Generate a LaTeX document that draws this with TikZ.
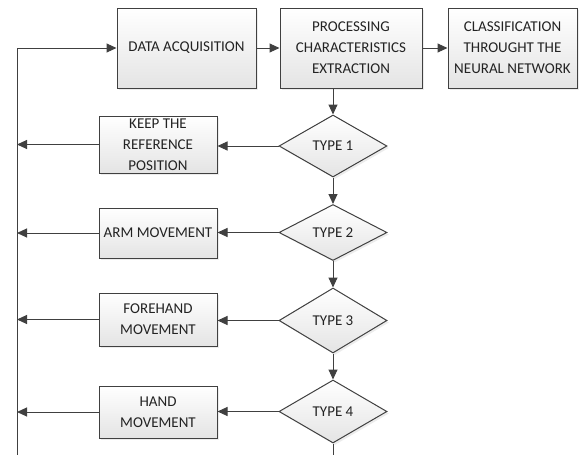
\documentclass[tikz,border=0pt]{standalone}
\usepackage{fontspec}
\setmainfont{Carlito}
\usetikzlibrary{arrows.meta,shapes.geometric,shadows}
\definecolor{LineGray}{RGB}{64,64,64}
\definecolor{TextGray}{RGB}{35,35,35}
\definecolor{BoxBottom}{RGB}{228,228,228}
\tikzset{
  stepbox/.style={rectangle,draw=LineGray,line width=1pt,top color=white,
    bottom color=BoxBottom,drop shadow={opacity=0.15,shadow xshift=2pt,shadow yshift=-2pt},
    align=center,inner sep=1pt,text=TextGray,font=\fontsize{15}{21}\selectfont},
  choice/.style={diamond,draw=LineGray,line width=1pt,top color=white,
    bottom color=BoxBottom,drop shadow={opacity=0.15,shadow xshift=2pt,shadow yshift=-2pt},
    minimum width=108pt,inner sep=0pt,text=TextGray,font=\fontsize{15}{21}\selectfont},
  arrow/.style={-{Triangle[length=10pt,width=9pt]},line width=1pt,LineGray},
  plain/.style={line width=1pt,LineGray}
}
\begin{document}
\begin{tikzpicture}[x=1pt,y=-1pt]
  \useasboundingbox (0,0) rectangle (579,455);
  % top row
  \node[stepbox,minimum width=139pt,minimum height=80pt] (acq) at (186.5,48) {DATA ACQUISITION};
  \node[stepbox,minimum width=142pt,minimum height=80pt] (proc) at (351,48)
    {PROCESSING\\CHARACTERISTICS\\EXTRACTION};
  \node[stepbox,minimum width=129pt,minimum height=80pt] (clas) at (512.5,48)
    {CLASSIFICATION\\THROUGHT THE\\NEURAL NETWORK};
  % decisions
  \node[choice,minimum height=62pt] (t1) at (333,146) {TYPE 1};
  \node[choice,minimum height=56pt] (t2) at (333,232.5) {TYPE 2};
  \node[choice,minimum height=65pt] (t3) at (333,320.5) {TYPE 3};
  \node[choice,minimum height=63pt] (t4) at (333,411.5) {TYPE 4};
  % movements
  \node[stepbox,minimum width=118pt,minimum height=57pt] (keep) at (158,144.5)
    {KEEP THE\\REFERENCE\\POSITION};
  \node[stepbox,minimum width=118pt,minimum height=50pt] (arm) at (158,233) {ARM MOVEMENT};
  \node[stepbox,minimum width=118pt,minimum height=53pt] (fore) at (158,319.5)
    {FOREHAND\\MOVEMENT};
  \node[stepbox,minimum width=118pt,minimum height=52pt] (hand) at (158,412)
    {HAND\\MOVEMENT};
  % return line
  \coordinate (looptop) at (17,48);
  \coordinate (loopbot) at (17,455);
  \coordinate (exit) at (333,455);

  \draw[arrow] (acq) -- (proc);
  \draw[arrow] (proc) -- (clas);
  \draw[arrow] (proc.south -| t1.north) -- (t1.north);
  \draw[arrow] (t1.south) -- (t2.north);
  \draw[arrow] (t2.south) -- (t3.north);
  \draw[arrow] (t3.south) -- (t4.north);
  \draw[plain] (t4.south) -- (exit);
  \draw[arrow] (t1.west) -- (t1.west -| keep.east);
  \draw[arrow] (t2.west) -- (t2.west -| arm.east);
  \draw[arrow] (t3.west) -- (t3.west -| fore.east);
  \draw[arrow] (t4.west) -- (t4.west -| hand.east);
  \draw[arrow] (keep.west) -- (keep.west -| looptop);
  \draw[arrow] (arm.west) -- (arm.west -| looptop);
  \draw[arrow] (fore.west) -- (fore.west -| looptop);
  \draw[arrow] (hand.west) -- (hand.west -| looptop);
  \draw[arrow] (loopbot) -- (looptop) -- (acq.west);
\end{tikzpicture}
\end{document}
